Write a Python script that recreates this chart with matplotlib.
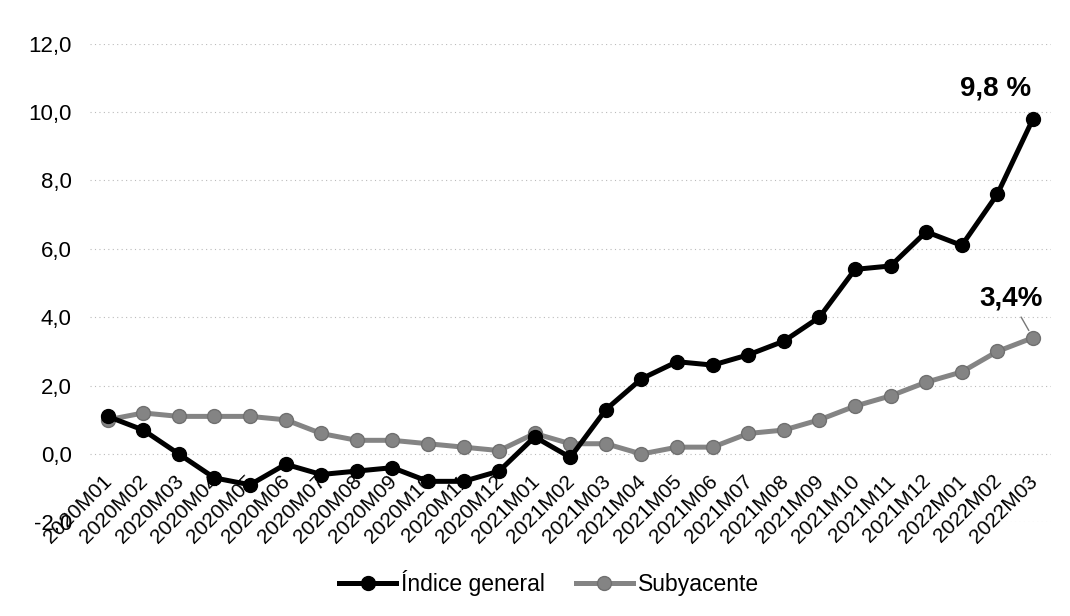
import matplotlib
matplotlib.use("Agg")
import matplotlib.pyplot as plt
import matplotlib.transforms as mtransforms

plt.rcParams['font.family'] = ['Liberation Sans', 'DejaVu Sans']

# months 2020M01 .. 2022M03
meses = ["2020M01", "2020M02", "2020M03", "2020M04", "2020M05", "2020M06",
         "2020M07", "2020M08", "2020M09", "2020M10", "2020M11", "2020M12",
         "2021M01", "2021M02", "2021M03", "2021M04", "2021M05", "2021M06",
         "2021M07", "2021M08", "2021M09", "2021M10", "2021M11", "2021M12",
         "2022M01", "2022M02", "2022M03"]
indice_general = [1.1, 0.7, 0.0, -0.7, -0.9, -0.3, -0.6, -0.5, -0.4, -0.8, -0.8, -0.5,
                  0.5, -0.1, 1.3, 2.2, 2.7, 2.6, 2.9, 3.3, 4.0, 5.4, 5.5, 6.5,
                  6.1, 7.6, 9.8]
subyacente = [1.0, 1.2, 1.1, 1.1, 1.1, 1.0, 0.6, 0.4, 0.4, 0.3, 0.2, 0.1,
              0.6, 0.3, 0.3, 0.0, 0.2, 0.2, 0.6, 0.7, 1.0, 1.4, 1.7, 2.1,
              2.4, 3.0, 3.4]
yticks = [-2, 0, 2, 4, 6, 8, 10, 12]

fig = plt.figure(figsize=(10.7, 6.16), dpi=100)
ax = fig.add_axes([0.084, 0.152, 0.898, 0.777])

x = list(range(len(meses)))
ax.plot(x, subyacente, color='#848484', lw=3.6, marker='o', ms=10,
        mfc='#848484', mec='#707070', label='Subyacente', zorder=3)
ax.plot(x, indice_general, color='black', lw=3.6, marker='o', ms=10,
        label='Índice general', zorder=4)

ax.set_xlim(-0.5, len(meses) - 0.5)
ax.set_ylim(-2, 12)
ax.set_yticks(yticks)
ax.set_yticklabels([f"{v:.1f}".replace('.', ',') for v in yticks], fontsize=16)
ax.tick_params(axis='y', length=0, pad=13)
ax.grid(axis='y', color='#bbbbbb', lw=0.8, ls=(0, (1, 3)))
for s in ax.spines.values():
    s.set_visible(False)

ax.set_xticks(x)
ax.set_xticklabels(meses, rotation=45, ha='right', va='top',
                   rotation_mode='anchor', fontsize=15)
ax.tick_params(axis='x', length=0, pad=0)
shift = mtransforms.ScaledTranslation(-0.05, 0.51, fig.dpi_scale_trans)
for lab in ax.get_xticklabels():
    lab.set_transform(lab.get_transform() + shift)

ax.annotate("9,8 %", xy=(x[-1], indice_general[-1]), xytext=(-27, 22),
            textcoords='offset points', ha='center', va='center',
            fontsize=20, fontweight='bold')
ax.annotate("3,4%", xy=(x[-1], subyacente[-1]), xytext=(-16, 28),
            textcoords='offset points', ha='center', va='center',
            fontsize=20, fontweight='bold',
            arrowprops=dict(arrowstyle='-', color='#777777', lw=1.0,
                            shrinkA=2, shrinkB=6))

handles, labels = ax.get_legend_handles_labels()
fig.legend(handles[::-1], labels[::-1], loc='center', bbox_to_anchor=(0.513, 0.054),
           ncol=2, frameon=False, fontsize=16.5, handlelength=2.5,
           columnspacing=1.35, handletextpad=0.2)

fig.savefig("out.png", dpi=100)
